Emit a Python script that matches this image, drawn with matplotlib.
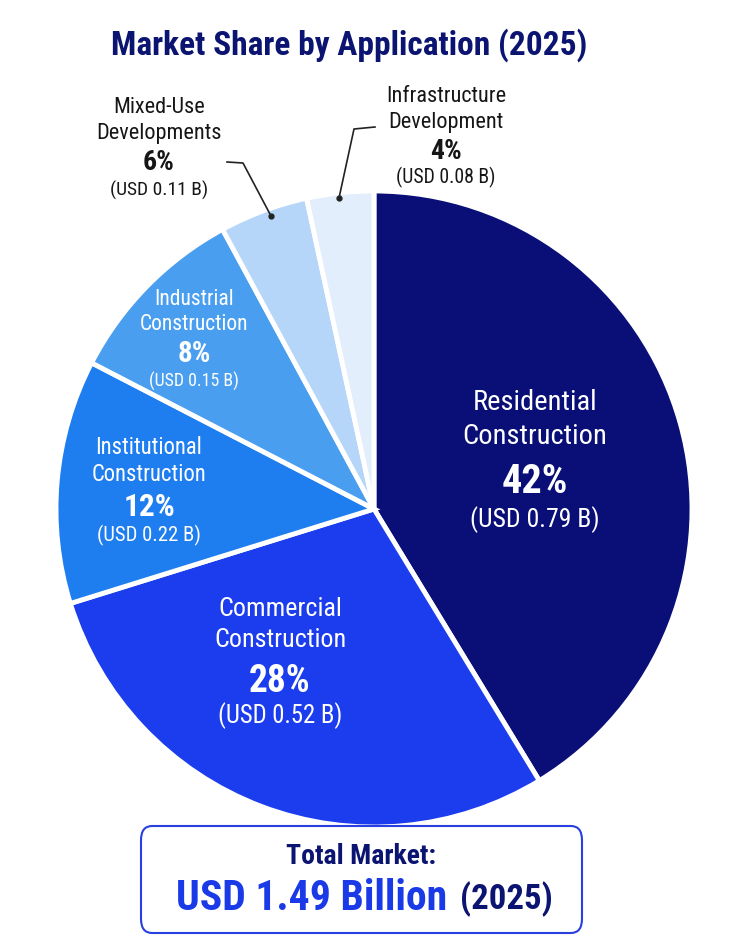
import matplotlib
matplotlib.use('Agg')
import matplotlib.pyplot as plt
from matplotlib.patches import FancyBboxPatch

NAVY = '#0B1470'
BLUE = '#1A3AE8'

categories = ['Residential\nConstruction', 'Commercial\nConstruction', 'Institutional\nConstruction',
              'Industrial\nConstruction', 'Mixed-Use\nDevelopments', 'Infrastructure\nDevelopment']
shares = [42, 28, 12, 8, 6, 4]                      # printed shares (%)
usd_b = [0.79, 0.52, 0.22, 0.15, 0.11, 0.08]         # printed values (USD bn)
arc_sizes = [41.3, 28.9, 12.4, 9.5, 4.5, 3.4]        # slice sizes as drawn in the picture
colors = ['#0A0F78', '#1C3DEE', '#1E7EF0', '#4A9EF0', '#B5D6F8', '#E2EEFC']

plt.rcParams['font.family'] = ['Roboto Condensed', 'Liberation Sans Narrow', 'Roboto', 'DejaVu Sans']

W, H = 740, 948
fig = plt.figure(figsize=(W / 100, H / 100), dpi=100)
fig.patch.set_facecolor('white')

def fx(x): return x / W
def fy(y): return 1 - y / H

# pie axes: center (374, 509), radius 318 px
cx, cy, r = 374, 509, 318
ax = fig.add_axes([fx(cx - r), fy(cy + r), 2 * r / W, 2 * r / H])
wedges, _ = ax.pie(arc_sizes, colors=colors, startangle=90, counterclock=False, radius=1,
                   wedgeprops=dict(edgecolor='white', linewidth=3.5))
ax.set_xlim(-1, 1); ax.set_ylim(-1, 1)
ax.set_axis_off()

def d(px, py):
    return ((px - cx) / r, (cy - py) / r)

# label layout: (x px, line y positions px, name size, pct size, usd size, colour)
layout = [
    (535, [403, 437, 482, 520], 20.5, 29, 18.5, 'white'),
    (280, [609, 640, 682, 716], 18.7, 27, 17.8, 'white'),
    (149, [448, 475, 507, 535], 16.3, 22.5, 14.9, 'white'),
    (194, [300, 325, 354, 381], 15.5, 21, 12.9, 'white'),
    (159, [108, 134, 163, 190], 16, 20, 14, '#161616'),
    (446, [97, 123, 152, 177], 16, 20, 14.2, '#161616'),
]
for cat, s, v, (lx, ys, ns, ps, us, col) in zip(categories, shares, usd_b, layout):
    n1, n2 = cat.split('\n')
    ax.text(*d(lx, ys[0]), n1, ha='center', va='center', fontsize=ns, color=col)
    ax.text(*d(lx, ys[1]), n2, ha='center', va='center', fontsize=ns, color=col)
    ax.text(*d(lx, ys[2]), f'{s}%', ha='center', va='center', fontsize=ps, color=col, fontweight='bold')
    ax.text(*d(lx, ys[3]), f'(USD {v:.2f} B)', ha='center', va='center', fontsize=us, color=col)

# leader lines for the two small slices
for pts in ([(227, 162), (243, 163), (271, 216)], [(375, 127), (354, 129), (339, 198)]):
    xs, ys = zip(*[d(*p) for p in pts])
    ax.plot(xs, ys, color='#222222', lw=1.2, clip_on=False)
    ax.plot(xs[-1], ys[-1], 'o', color='#222222', ms=3.5, clip_on=False)

fig.text(fx(349), fy(45), 'Market Share by Application (2025)', ha='center', va='center',
         fontsize=24, fontweight='bold', color=NAVY)

box = FancyBboxPatch((fx(141), fy(933)), fx(582) - fx(141), fy(826) - fy(933),
                     boxstyle='round,pad=0,rounding_size=0.015', transform=fig.transFigure,
                     facecolor='white', edgecolor='#2A3FE0', linewidth=1.5)
fig.patches.append(box)
fig.text(fx(361), fy(857), 'Total Market:', ha='center', va='center', fontsize=20,
         fontweight='bold', color=NAVY)
fig.text(fx(447), fy(899), 'USD 1.49 Billion', ha='right', va='center', fontsize=30,
         fontweight='bold', color=BLUE)
fig.text(fx(460), fy(899), '(2025)', ha='left', va='center', fontsize=25,
         fontweight='bold', color=NAVY)

fig.savefig('out.png', dpi=100, facecolor='white')
